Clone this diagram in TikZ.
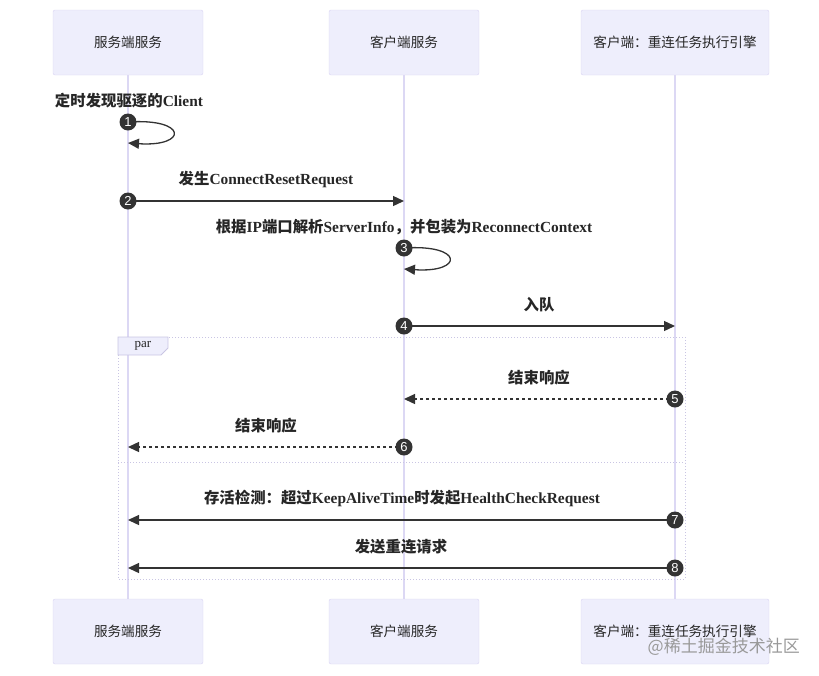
\documentclass[tikz,border=0pt]{standalone}
\usepackage{fontspec}
\setmainfont{Liberation Serif}
\newfontfamily\cjk{Noto Sans CJK SC}
\newfontfamily\numfont{Liberation Sans}
\usetikzlibrary{arrows.meta}
\newcommand{\zh}[1]{{\cjk #1}}
\definecolor{actfill}{HTML}{EEEEFC}
\definecolor{actdraw}{HTML}{D9D4F3}
\definecolor{lifeline}{HTML}{DCD8F4}
\definecolor{msg}{HTML}{333333}
\definecolor{parline}{HTML}{C9C5E3}
\tikzset{
  actor/.style={draw=actdraw, fill=actfill, rounded corners=2pt, minimum width=150pt, minimum height=65pt, inner sep=0pt, font=\fontsize{13.6}{15}\selectfont\cjk, text=black!85},
  life/.style={draw=lifeline, line width=1.6pt},
  msgline/.style={draw=msg, line width=1.3pt, -{Triangle[length=11pt,width=10pt]}},
  retline/.style={draw=msg, line width=1.3pt, dash pattern=on 3pt off 3pt, -{Triangle[length=11pt,width=10pt]}},
  num/.style={circle, fill=msg, text=white, minimum size=17pt, inner sep=0pt, font=\fontsize{13}{13}\selectfont\numfont},
  lbl/.style={font=\fontsize{15.4}{17}\selectfont\bfseries, text=black!85, inner sep=0pt},
  parbox/.style={draw=parline, line width=1pt, dotted},
}
\begin{document}
\begin{tikzpicture}[x=1pt,y=-1pt]
\useasboundingbox (0,0) rectangle (819,675);
% lifelines
\coordinate (s0) at (128,75); \coordinate (s1) at (128,599);
\coordinate (c0) at (404,75); \coordinate (c1) at (404,599);
\coordinate (e0) at (675,75); \coordinate (e1) at (675,599);
\draw[life] (s0) -- (s1);
\draw[life] (c0) -- (c1);
\draw[life] (e0) -- (e1);
% actors
\node[actor] (sTop) at (128,42.5) {服务端服务};
\node[actor] (cTop) at (404,42.5) {客户端服务};
\node[actor, minimum width=188pt] (eTop) at (675,42.5) {客户端：重连任务执行引擎};
\node[actor] (sBot) at (128,631.5) {服务端服务};
\node[actor] (cBot) at (404,631.5) {客户端服务};
\node[actor, minimum width=188pt] (eBot) at (675,631.5) {客户端：重连任务执行引擎};
% par box
\coordinate (p1) at (118,337); \coordinate (p2) at (685,579);
\draw[parbox] (p1) rectangle (p2);
\coordinate (d1) at (118,462); \coordinate (d2) at (685,462);
\draw[parbox] (d1) -- (d2);
\draw[draw=parline, fill=actfill, line width=0.8pt] (118,337) -- (168,337) -- (168,348) -- (161,355) -- (118,355) -- cycle;
\node[font=\fontsize{13}{13}\selectfont, text=black!85, inner sep=0pt] (parlbl) at (143,346) {par};
% message 1
\node[lbl] (l1) at (129,101) {\zh{定时发现驱逐的}Client};
\coordinate (m1a) at (128,122); \coordinate (m1b) at (128,143);
\draw[msgline] (m1a) .. controls (188,118) and (188,147) .. (m1b);
\node[num] (n1) at (m1a) {1};
% message 2
\node[lbl] (l2) at (266,179) {\zh{发生}ConnectResetRequest};
\coordinate (m2a) at (128,201); \coordinate (m2b) at (404,201);
\draw[msgline] (m2a) -- (m2b);
\node[num] (n2) at (m2a) {2};
% message 3
\node[lbl] (l3) at (404,227) {\zh{根据}IP\zh{端口解析}ServerInfo\zh{，并包装为}ReconnectContext};
\coordinate (m3a) at (404,248); \coordinate (m3b) at (404,269);
\draw[msgline] (m3a) .. controls (464,244) and (464,273) .. (m3b);
\node[num] (n3) at (m3a) {3};
% message 4
\node[lbl] (l4) at (539,305) {\zh{入队}};
\coordinate (m4a) at (404,326); \coordinate (m4b) at (675,326);
\draw[msgline] (m4a) -- (m4b);
\node[num] (n4) at (m4a) {4};
% message 5
\node[lbl] (l5) at (539,378) {\zh{结束响应}};
\coordinate (m5a) at (675,399); \coordinate (m5b) at (404,399);
\draw[retline] (m5a) -- (m5b);
\node[num] (n5) at (m5a) {5};
% message 6
\node[lbl] (l6) at (266,426) {\zh{结束响应}};
\coordinate (m6a) at (404,447); \coordinate (m6b) at (128,447);
\draw[retline] (m6a) -- (m6b);
\node[num] (n6) at (m6a) {6};
% message 7
\node[lbl] (l7) at (402,498) {\zh{存活检测：超过}KeepAliveTime\zh{时发起}HealthCheckRequest};
\coordinate (m7a) at (675,520); \coordinate (m7b) at (128,520);
\draw[msgline] (m7a) -- (m7b);
\node[num] (n7) at (m7a) {7};
% message 8
\node[lbl] (l8) at (401,547) {\zh{发送重连请求}};
\coordinate (m8a) at (675,568); \coordinate (m8b) at (128,568);
\draw[msgline] (m8a) -- (m8b);
\node[num] (n8) at (m8a) {8};
% watermark
\node[font=\fontsize{17}{17}\selectfont\cjk, text=black!40, anchor=east, inner sep=0pt] (wm) at (800,647) {@稀土掘金技术社区};
\end{tikzpicture}
\end{document}
